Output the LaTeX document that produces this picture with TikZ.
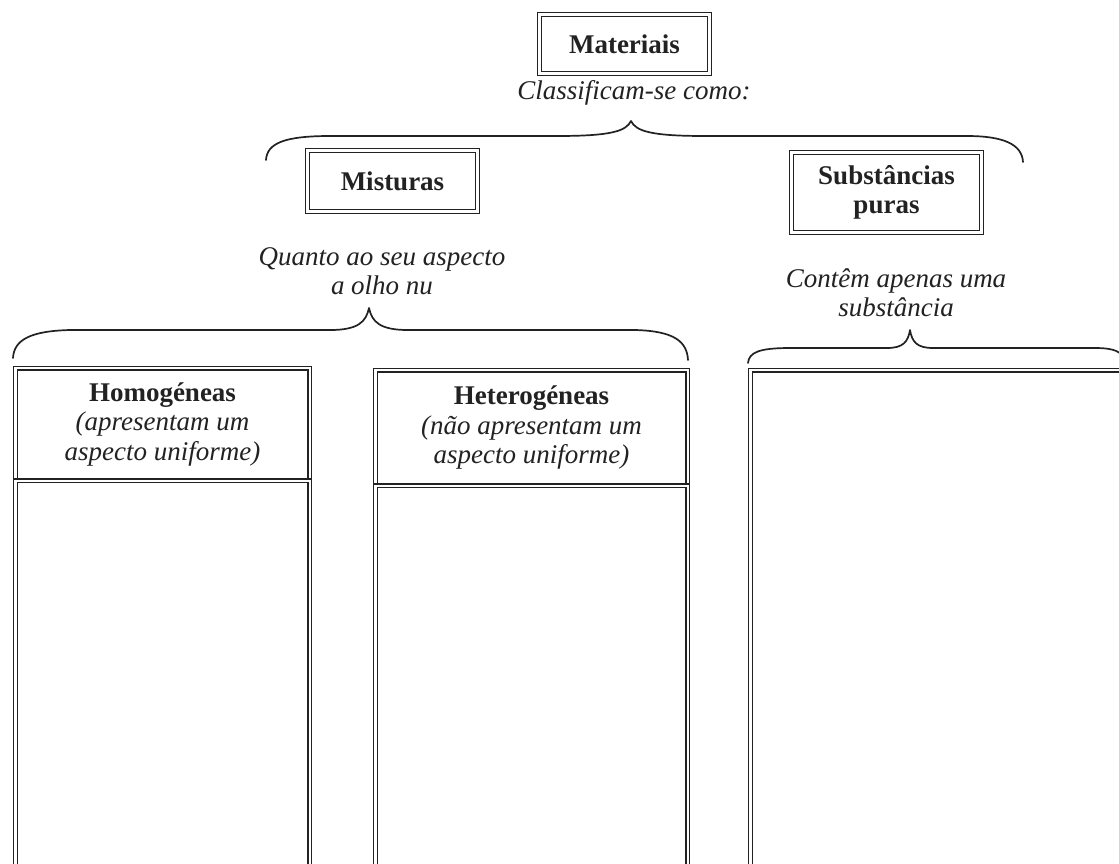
\documentclass[tikz,border=0pt]{standalone}
\usepackage{fontspec}
\setmainfont{Liberation Serif}
\definecolor{ink}{HTML}{222222}
\tikzset{
  txt/.style={font=\fontsize{27}{29.5}\selectfont, text=ink, inner sep=0pt, align=center},
  dbox/.style={draw=ink, double=white, double distance=2.2pt, line width=1.4pt, inner sep=0pt,
               font=\fontsize{27}{29.5}\selectfont, text=ink, align=center},
  brace/.style={draw=ink, line width=1.7pt, line cap=round, line join=round}
}
\begin{document}
\begin{tikzpicture}[x=1pt,y=-1pt]
\useasboundingbox (0,0) rectangle (1119,863);
\clip (0,0) rectangle (1119,863);
\fill[white] (0,0) rectangle (1119,863);

% top box
\node[dbox, minimum width=170pt, minimum height=59pt] (mat) at (624.5,44) {\textbf{Materiais}};
\node[txt] (cls) at (634,93) {\textit{Classificam-se como:}};

% brace 1
\draw[brace] (266,160) .. controls (267,143) and (285,136) .. (330,136) -- (557,136)
  .. controls (612,136) and (626,131) .. (631,121)
  .. controls (636,131) and (650,136) .. (705,136) -- (967,136)
  .. controls (1005,136) and (1022,145) .. (1023,162);

% second level boxes
\node[dbox, minimum width=170pt, minimum height=61pt] (mis) at (392.5,181) {\textbf{Misturas}};
\node[dbox, minimum width=190pt, minimum height=80pt] (sub) at (886.5,192.5) {\textbf{Substâncias}\\\textbf{puras}};

\node[txt] (qto) at (382,271) {\textit{Quanto ao seu aspecto}\\\textit{a olho nu}};
\node[txt] (cont) at (896,293) {\textit{Contêm apenas uma}\\\textit{substância}};

% brace 2
\draw[brace] (13,358) .. controls (14,340) and (30,331) .. (70,330) -- (330,330)
  .. controls (358,330) and (366,322) .. (369,308)
  .. controls (372,322) and (380,330) .. (408,330) -- (635,330)
  .. controls (675,331) and (687,342) .. (688,360);

% brace 3
\draw[brace] (748,363) .. controls (749,352) and (760,348) .. (790,348) -- (887,348)
  .. controls (903,348) and (908,342) .. (910,330)
  .. controls (912,342) and (917,348) .. (933,348) -- (1095,348)
  .. controls (1115,348) and (1122,352) .. (1124,360);

% columns
\node[dbox, anchor=north, minimum width=294.2pt, minimum height=112.6pt] (homh) at (162.5,367.4)
  {\textbf{Homogéneas}\\\textit{(apresentam um}\\\textit{aspecto uniforme)}};
\node[dbox, anchor=north, minimum width=294.2pt, minimum height=420pt] (homb) at (162.5,480) {};

\node[dbox, anchor=north, minimum width=312.2pt, minimum height=115.6pt] (heth) at (531.5,369.4)
  {\textbf{Heterogéneas}\\\textit{(não apresentam um}\\\textit{aspecto uniforme)}};
\node[dbox, anchor=north, minimum width=312.2pt, minimum height=420pt] (hetb) at (531.5,485) {};

\node[dbox, anchor=north, minimum width=400pt, minimum height=560pt] (subb) at (950.4,369.4) {};
\end{tikzpicture}
\end{document}
